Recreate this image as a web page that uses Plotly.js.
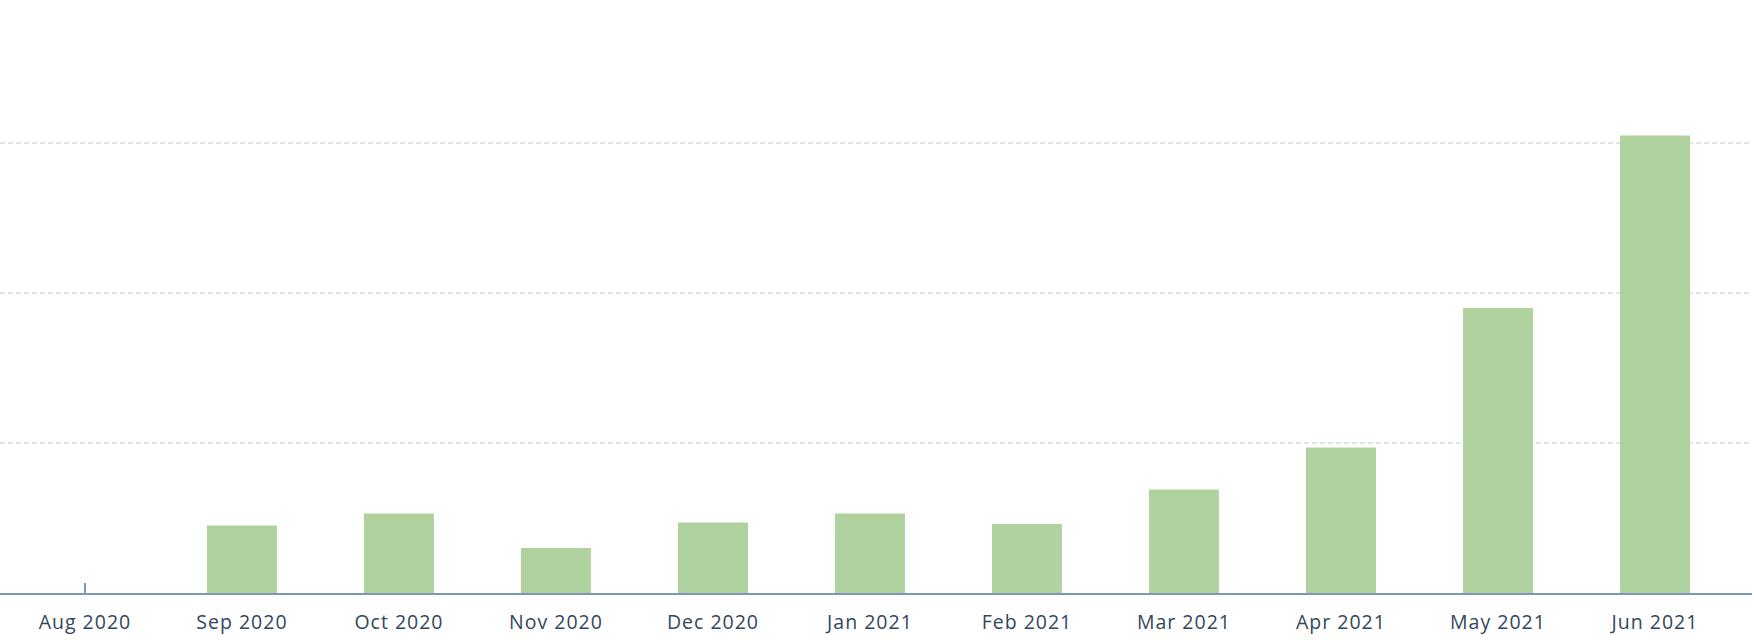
<!DOCTYPE html>
<html>
<head>
<meta charset="utf-8">
<script src="https://cdn.plot.ly/plotly-3.0.1.min.js"></script>
<style>
html,body{margin:0;padding:0;background:#fff;}
#chart{width:1754px;height:640px;}
.xtick text{letter-spacing:1px;}
</style>
</head>
<body>
<div id="chart"></div>
<script>
const months = ["Aug 2020","Sep 2020","Oct 2020","Nov 2020","Dec 2020","Jan 2021","Feb 2021","Mar 2021","Apr 2021","May 2021","Jun 2021"];
const values = [0, 45, 53, 30, 47, 53, 46, 69, 97, 190, 305];
const gridVals = [0, 100, 200, 300];

const trace = {
  type: 'bar',
  x: months,
  y: values,
  width: 0.446,
  marker: {color: '#b0d29f', line: {width: 0}},
  hoverinfo: 'x+y'
};

const layout = {
  width: 1754,
  height: 640,
  margin: {l: 0, r: 2, t: 0, b: 47, pad: 0},
  paper_bgcolor: '#ffffff',
  plot_bgcolor: '#ffffff',
  showlegend: false,
  xaxis: {
    type: 'category',
    range: [-0.541, 10.618],
    showline: true,
    linecolor: '#7c98b6',
    linewidth: 2,
    ticks: 'inside',
    ticklen: 10,
    tickwidth: 1.5,
    tickcolor: '#7c98b6',
    showgrid: false,
    zeroline: false,
    layer: 'below traces',
    tickfont: {family: '"Open Sans", Lato, sans-serif', size: 19.5, color: '#33475b'},
    ticklabelstandoff: 11,
    fixedrange: true
  },
  yaxis: {
    range: [0, 395.3],
    tickvals: gridVals,
    showticklabels: false,
    showgrid: true,
    gridcolor: '#dfe3eb',
    gridwidth: 1.5,
    griddash: '5px,3px',
    zeroline: false,
    showline: false,
    ticks: '',
    fixedrange: true
  }
};

Plotly.newPlot('chart', [trace], layout, {displayModeBar: false, staticPlot: true});
</script>
</body>
</html>
